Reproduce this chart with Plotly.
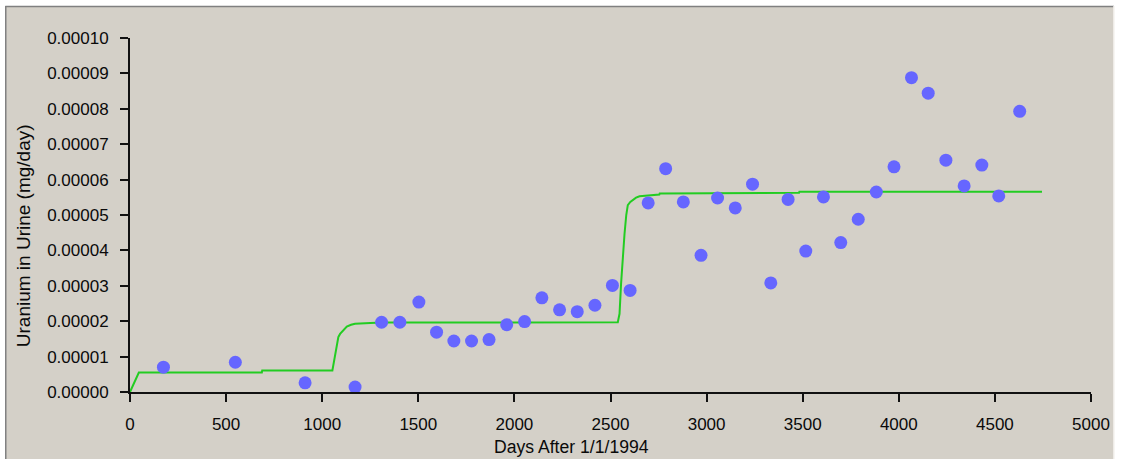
import plotly.graph_objects as go

# Measured urinary uranium excretion (bioassay samples)
sample_days = [174, 548, 911, 1171, 1309, 1404, 1503, 1595, 1685, 1777,
               1868, 1960, 2053, 2143, 2235, 2327, 2419, 2510, 2602, 2696,
               2787, 2879, 2971, 3057, 3149, 3239, 3334, 3424, 3516, 3608,
               3698, 3789, 3883, 3975, 4066, 4153, 4245, 4340, 4432, 4520,
               4629]
sample_urine = [0.70e-5, 0.84e-5, 0.26e-5, 0.14e-5, 1.97e-5, 1.97e-5, 2.54e-5,
                1.69e-5, 1.44e-5, 1.44e-5, 1.48e-5, 1.90e-5, 1.99e-5, 2.66e-5,
                2.32e-5, 2.27e-5, 2.45e-5, 3.01e-5, 2.87e-5, 5.34e-5, 6.31e-5,
                5.37e-5, 3.86e-5, 5.48e-5, 5.20e-5, 5.87e-5, 3.08e-5, 5.44e-5,
                3.98e-5, 5.51e-5, 4.22e-5, 4.88e-5, 5.65e-5, 6.36e-5, 8.88e-5,
                8.44e-5, 6.55e-5, 5.82e-5, 6.41e-5, 5.54e-5, 7.93e-5]

# Model-predicted urinary excretion curve
model_days = [0, 46, 686, 688, 1053, 1060, 1067, 1075, 1084, 1093, 1102,
              1115, 1128, 1150, 1171, 1250, 1318, 2538, 2547, 2555, 2564,
              2573, 2582, 2590, 2603, 2616, 2633, 2651, 2703, 2754, 2756,
              3481, 3483, 4745]
model_urine = [0.0, 0.55e-5, 0.55e-5, 0.61e-5, 0.61e-5, 0.85e-5, 1.08e-5,
               1.33e-5, 1.55e-5, 1.64e-5, 1.69e-5, 1.78e-5, 1.85e-5, 1.90e-5,
               1.93e-5, 1.95e-5, 1.96e-5, 1.97e-5, 2.21e-5, 3.06e-5, 3.90e-5,
               4.47e-5, 5.00e-5, 5.28e-5, 5.37e-5, 5.42e-5, 5.49e-5, 5.53e-5,
               5.56e-5, 5.58e-5, 5.61e-5, 5.63e-5, 5.66e-5, 5.66e-5]

x_ticks = [0, 500, 1000, 1500, 2000, 2500, 3000, 3500, 4000, 4500, 5000]
y_ticks = [0.0, 0.00001, 0.00002, 0.00003, 0.00004, 0.00005, 0.00006,
           0.00007, 0.00008, 0.00009, 0.00010]

W, H = 1122, 459
L, R, T, B = 130, 29, 38, 67
PW, PH = W - L - R, H - T - B

def px(xp):
    return (xp - L) / PW

def py(yp):
    return (H - B - yp) / PH

PANEL = "#d4d0c8"
FONT = "Liberation Sans, Arial, sans-serif"
INK = "#0a0a0a"

fig = go.Figure()

fig.add_trace(go.Scatter(
    x=model_days, y=model_urine, mode="lines",
    line=dict(color="#22cc22", width=2),
    hoverinfo="skip", showlegend=False, cliponaxis=False,
))
fig.add_trace(go.Scatter(
    x=sample_days, y=sample_urine, mode="markers",
    marker=dict(color="#6666ff", size=13, line=dict(width=0)),
    showlegend=False, cliponaxis=False,
))

axis_common = dict(
    showgrid=False, zeroline=False, showline=True,
    linecolor="#111111", linewidth=2,
    ticks="outside", ticklen=8, tickwidth=2, tickcolor="#111111",
    tickfont=dict(family=FONT, size=17, color=INK),
    ticklabelstandoff=8,
)

fig.update_layout(
    width=W, height=H,
    margin=dict(l=L, r=R, t=T, b=B, pad=0),
    paper_bgcolor="white",
    plot_bgcolor=PANEL,
    xaxis=dict(range=[0, 5000], tickvals=x_ticks,
               ticktext=[str(v) for v in x_ticks], **axis_common),
    yaxis=dict(range=[0, 0.0001], tickvals=y_ticks,
               ticktext=[f"{v:.5f}" for v in y_ticks], **axis_common),
    shapes=[
        # panel background with a sunken window frame
        dict(type="rect", xref="paper", yref="paper", layer="below",
             x0=px(5), x1=px(1116), y0=py(470), y1=py(6),
             fillcolor=PANEL, line=dict(width=0)),
        dict(type="line", xref="paper", yref="paper",
             x0=px(5), x1=px(1116), y0=py(6.5), y1=py(6.5),
             line=dict(color="#808080", width=1.5)),
        dict(type="line", xref="paper", yref="paper",
             x0=px(5.5), x1=px(5.5), y0=py(6), y1=py(470),
             line=dict(color="#808080", width=1.5)),
        dict(type="line", xref="paper", yref="paper",
             x0=px(1116), x1=px(1116), y0=py(6), y1=py(470),
             line=dict(color="#f4f2ee", width=1.5)),
    ],
    annotations=[
        dict(text="Days After 1/1/1994", xref="paper", yref="paper",
             x=px(572), y=py(447), showarrow=False,
             xanchor="center", yanchor="middle",
             font=dict(family=FONT, size=17.6, color=INK)),
        dict(text="Uranium in Urine (mg/day)", xref="paper", yref="paper",
             x=px(23), y=py(236), showarrow=False, textangle=-90,
             xanchor="center", yanchor="middle",
             font=dict(family=FONT, size=19, color=INK)),
    ],
)

fig.write_html("out.html")
